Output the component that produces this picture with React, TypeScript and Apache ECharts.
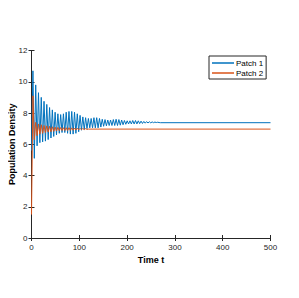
import React, { useEffect, useRef } from "react";
import * as echarts from "echarts";

// Time axis ticks
const xTicks = [0, 100, 200, 300, 400, 500];
const yTicks = [0, 2, 4, 6, 8, 10, 12];

// Patch 1: starting value, successive local maxima and minima, final steady level
const p1Start = 5.6;
const p1Peaks = [
  10.7, 9.8, 9.3, 9.0, 8.75, 8.55, 8.35, 8.2, 8.05, 7.95, 7.9, 7.95, 8.05, 8.1, 8.1, 8.05,
  7.95, 7.85, 7.75, 7.7, 7.65, 7.65, 7.7, 7.7, 7.65, 7.6, 7.58, 7.55, 7.55, 7.58, 7.6, 7.58,
  7.55, 7.52, 7.5, 7.5, 7.52, 7.52, 7.5, 7.48, 7.46, 7.45, 7.44, 7.43, 7.42, 7.41,
];
const p1Troughs = [
  5.1, 5.9, 6.1, 6.15, 6.2, 6.3, 6.4, 6.5, 6.6, 6.7, 6.75, 6.75, 6.7, 6.65, 6.65, 6.7,
  6.8, 6.9, 6.95, 7.0, 7.05, 7.05, 7.05, 7.05, 7.1, 7.15, 7.18, 7.2, 7.2, 7.2, 7.2, 7.22,
  7.25, 7.28, 7.3, 7.3, 7.3, 7.3, 7.32, 7.33, 7.35, 7.36, 7.37, 7.38, 7.39, 7.39,
];
const p1Final = 7.38;

// Patch 2
const p2Start = 1.5;
const p2Peaks = [
  9.1, 7.4, 7.3, 7.25, 7.2, 7.18, 7.15, 7.12, 7.1, 7.08, 7.07, 7.06, 7.06, 7.06, 7.05, 7.04,
  7.03, 7.02, 7.01, 7.0,
];
const p2Troughs = [
  6.3, 6.55, 6.65, 6.7, 6.75, 6.78, 6.8, 6.83, 6.85, 6.87, 6.88, 6.88, 6.88, 6.89, 6.9, 6.91,
  6.92, 6.93, 6.94, 6.95,
];
const p2Final = 6.97;

// oscillation timing (peak every cycle, trough half a cycle later)
const firstPeakT = 3;
const cycle = 5.8;
const tEnd = 500;

function build(start: number, peaks: number[], troughs: number[], final: number) {
  const pts: [number, number][] = [[0, start]];
  for (let k = 0; k < peaks.length; k++) {
    pts.push([firstPeakT + cycle * k, peaks[k]]);
    pts.push([firstPeakT + cycle * k + cycle / 2, troughs[k]]);
  }
  const lastT = firstPeakT + cycle * peaks.length;
  pts.push([lastT, final]);
  pts.push([tEnd, final]);
  return pts;
}

export default function App() {
  const ref = useRef<HTMLDivElement>(null);
  useEffect(() => {
    if (!ref.current) return;
    const chart = echarts.init(ref.current, undefined, { renderer: "svg" });
    const axisColor = "#262626";
    const font = "Liberation Sans, Arial, Helvetica, sans-serif";
    const axCommon = {
      axisLine: { show: true, lineStyle: { color: axisColor, width: 1 } },
      axisTick: { show: true, inside: true, length: 3, lineStyle: { color: axisColor } },
      splitLine: { show: false },
    };
    chart.setOption({
      animation: false,
      backgroundColor: "#ffffff",
      grid: {
        left: 31.5,
        right: 28.5,
        top: 50.5,
        bottom: 60,
        containLabel: false,
        outerBoundsMode: "none",
      },
      legend: {
        orient: "vertical",
        left: 209,
        top: 56,
        padding: [3, 3, 2, 3],
        itemGap: 2,
        itemWidth: 22,
        itemHeight: 1.5,
        icon: "rect",
        borderColor: axisColor,
        borderWidth: 1,
        backgroundColor: "#ffffff",
        textStyle: { fontSize: 8, color: "#000", fontFamily: font, padding: [0, 0, 0, -3] },
        data: ["Patch 1", "Patch 2"],
      },
      xAxis: [
        {
          type: "value",
          min: 0,
          max: 500,
          interval: 100,
          name: "Time t",
          nameLocation: "middle",
          nameGap: 17,
          nameMoveOverlap: false,
          nameTextStyle: {
            fontSize: 9,
            fontWeight: "bold",
            color: "#000",
            fontFamily: font,
            verticalAlign: "top",
          },
          axisLabel: {
            fontSize: 8,
            color: axisColor,
            fontFamily: font,
            margin: 5,
            customValues: xTicks,
          },
          ...axCommon,
        },
        {
          type: "value",
          position: "top",
          min: 0,
          max: 500,
          interval: 100,
          axisLabel: { show: false },
          ...axCommon,
        },
      ],
      yAxis: [
        {
          type: "value",
          min: 0,
          max: 12,
          interval: 2,
          name: "Population Density",
          nameLocation: "middle",
          nameGap: 15,
          nameMoveOverlap: false,
          nameTextStyle: { fontSize: 9, fontWeight: "bold", color: "#000", fontFamily: font },
          axisLabel: { fontSize: 8, color: axisColor, fontFamily: font, margin: 4, customValues: yTicks },
          ...axCommon,
        },
        {
          type: "value",
          position: "right",
          min: 0,
          max: 12,
          interval: 2,
          axisLabel: { show: false },
          ...axCommon,
        },
      ],
      series: [
        {
          name: "Patch 1",
          type: "line",
          data: build(p1Start, p1Peaks, p1Troughs, p1Final),
          showSymbol: false,
          lineStyle: { color: "#0072BD", width: 1 },
          itemStyle: { color: "#0072BD" },
        },
        {
          name: "Patch 2",
          type: "line",
          data: build(p2Start, p2Peaks, p2Troughs, p2Final),
          showSymbol: false,
          lineStyle: { color: "#D95319", width: 1 },
          itemStyle: { color: "#D95319" },
        },
      ],
    });
    return () => chart.dispose();
  }, []);
  return <div ref={ref} style={{ width: 299, height: 298, margin: -8 }} />;
}
